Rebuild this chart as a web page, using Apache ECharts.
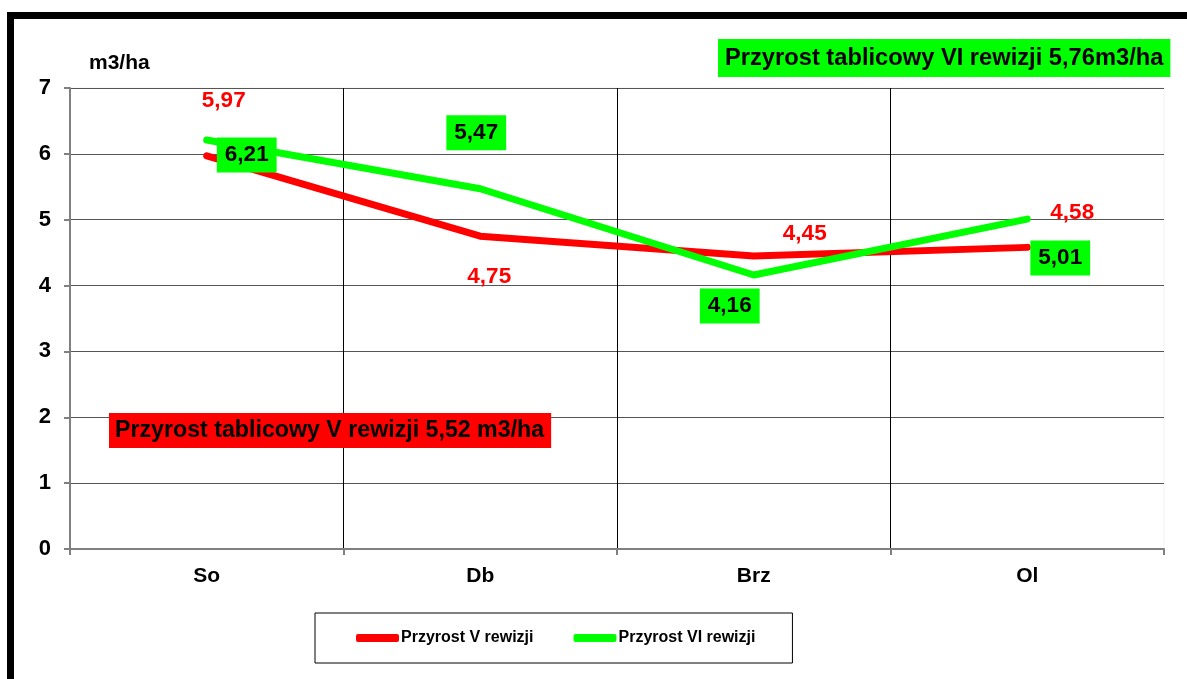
<!DOCTYPE html>
<html><head><meta charset="utf-8">
<script src="https://cdn.jsdelivr.net/npm/echarts@6/dist/echarts.min.js"></script>
<style>html,body{margin:0;padding:0;background:#fff}#c{width:1187px;height:679px}</style>
</head><body><div id="c"></div>
<script>
const categories = ['So', 'Db', 'Brz', 'Ol'];
const seriesV = [5.97, 4.75, 4.45, 4.58];
const seriesVI = [6.21, 5.47, 4.16, 5.01];
const nameV = 'Przyrost V rewizji';
const nameVI = 'Przyrost VI rewizji';
const yTicks = [0, 1, 2, 3, 4, 5, 6, 7];
const unitLabel = 'm3/ha';
const noteVI = 'Przyrost tablicowy VI rewizji 5,76m3/ha';
const noteV = 'Przyrost tablicowy V rewizji 5,52 m3/ha';

// label placement (layout only)
const offV = [[17,-55],[9,41],[51,-22],[45,-35]];
const offVI = [[40,15],[-4,-56],[-24,31],[33,39]];

const FONT = '"Liberation Sans", Arial, sans-serif';
const fmt = v => v.toFixed(2).replace('.', ',');
// boundary positions between categories (for vertical gridlines only)
const boundaries = Array.from({ length: categories.length + 1 }, () => '');

const chart = echarts.init(document.getElementById('c'));
chart.setOption({
  animation: false,
  backgroundColor: '#fff',
  textStyle: { fontFamily: FONT },
  grid: { left: 70, right: 23, top: 88, bottom: 130, show: true, borderColor: '#f2f2f2', borderWidth: 1 },
  xAxis: [{
    type: 'category', data: categories, boundaryGap: true,
    axisLine: { lineStyle: { color: '#808080', width: 2 } },
    axisTick: { show: true, length: 6, lineStyle: { color: '#808080', width: 2 } },
    axisLabel: { color: '#000', fontWeight: 'bold', fontSize: 21, fontFamily: FONT, margin: 17 },
    splitLine: { show: false }
  }, {
    type: 'category', data: boundaries, boundaryGap: false, position: 'bottom',
    axisLine: { show: false }, axisTick: { show: false }, axisLabel: { show: false },
    splitLine: { show: true, interval: (i) => i > 0 && i < categories.length, lineStyle: { color: '#000', width: 1 } }
  }],
  yAxis: {
    type: 'value', min: yTicks[0], max: yTicks[yTicks.length - 1], interval: 1,
    axisLine: { show: true, lineStyle: { color: '#808080', width: 2 } },
    axisTick: { show: true, length: 6, lineStyle: { color: '#808080', width: 2 } },
    axisLabel: { color: '#000', fontWeight: 'bold', fontSize: 22, fontFamily: FONT, margin: 19 },
    splitLine: { show: true, lineStyle: { color: '#555', width: 1 } }
  },
  legend: {
    left: 315, top: 613, width: 500,
    padding: [17, 37, 17, 41], itemGap: 40,
    borderColor: '#000', borderWidth: 1,
    icon: 'roundRect', itemWidth: 43, itemHeight: 8,
    textStyle: { color: '#000', fontWeight: 'bold', fontSize: 16, fontFamily: FONT, padding: [0,0,0,-3] },
    data: [nameV, nameVI]
  },
  series: [
    {
      name: nameV, type: 'line', xAxisIndex: 0, data: seriesV.map((v, i) => ({
        value: v,
        label: { offset: offV[i] }
      })),
      color: '#ff0000', symbol: 'circle', symbolSize: 6,
      lineStyle: { width: 7, color: '#ff0000', cap: 'round', join: 'round' },
      label: {
        show: true, position: 'inside', color: '#ff0000', fontWeight: 'bold', fontSize: 22.5,
        fontFamily: FONT, formatter: p => fmt(p.value)
      },
      z: 3
    },
    {
      name: nameVI, type: 'line', xAxisIndex: 0, data: seriesVI.map((v, i) => ({
        value: v,
        label: { offset: offVI[i] }
      })),
      color: '#00ff00', symbol: 'circle', symbolSize: 6,
      lineStyle: { width: 7, color: '#00ff00', cap: 'round', join: 'round' },
      label: {
        show: true, position: 'inside', color: '#000', fontWeight: 'bold', fontSize: 22.5,
        fontFamily: FONT, backgroundColor: '#00ff00', padding: [6, 8, 6, 8],
        formatter: p => fmt(p.value)
      },
      z: 4
    }
  ],
  graphic: [
    { type: 'rect', z: 100, shape: { x: 10.5, y: 15.5, width: 1400, height: 1000 },
      style: { fill: 'none', stroke: '#000', lineWidth: 7 } },
    { type: 'text', left: 89, top: 53, z: 50,
      style: { text: unitLabel, fill: '#000', font: 'bold 21px ' + FONT } },
    { type: 'text', left: 718, top: 39, z: 50,
      style: { text: noteVI, fill: '#000', font: 'bold 23.7px ' + FONT,
        backgroundColor: '#00ff00', padding: [7, 7, 7, 7] } },
    { type: 'text', left: 109, top: 413, z: 50,
      style: { text: noteV, fill: '#000', font: 'bold 23.2px ' + FONT,
        backgroundColor: '#ff0000', padding: [6, 7, 6, 6] } }
  ]
});
</script></body></html>
